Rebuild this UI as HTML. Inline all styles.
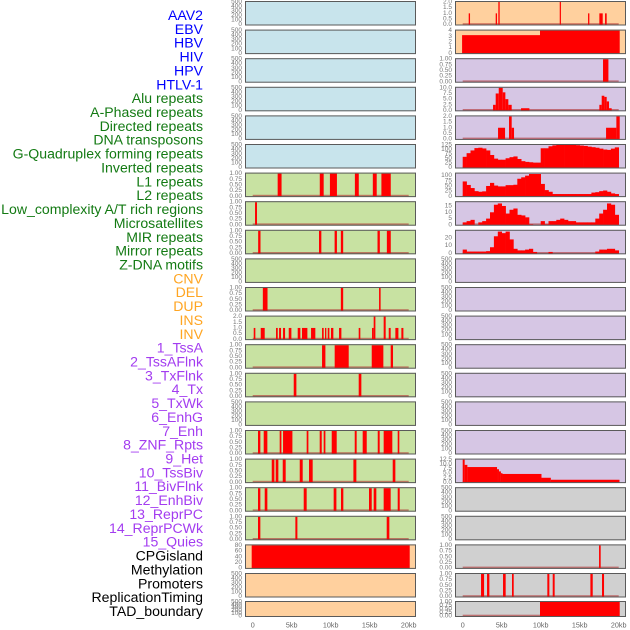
<!DOCTYPE html>
<html><head><meta charset="utf-8">
<style>
html,body{margin:0;padding:0;background:#fff;}
svg{display:block;font-family:"Liberation Sans",sans-serif;}
</style></head>
<body>
<svg id="chart" width="630" height="630" viewBox="0 0 630 630" xmlns="http://www.w3.org/2000/svg"></svg>
<script>
// ---------- data ----------
const trackLabels = ["AAV2","EBV","HBV","HIV","HPV","HTLV-1","Alu repeats","A-Phased repeats","Directed repeats","DNA transposons","G-Quadruplex forming repeats","Inverted repeats","L1 repeats","L2 repeats","Low_complexity A/T rich regions","Microsatellites","MIR repeats","Mirror repeats","Z-DNA motifs","CNV","DEL","DUP","INS","INV","1_TssA","2_TssAFlnk","3_TxFlnk","4_Tx","5_TxWk","6_EnhG","7_Enh","8_ZNF_Rpts","9_Het","10_TssBiv","11_BivFlnk","12_EnhBiv","13_ReprPC","14_ReprPCWk","15_Quies","CPGisland","Methylation","Promoters","ReplicationTiming","TAD_boundary"];
const labelGroupSizes = [6,13,5,15,5];
const labelGroupColors = ["#0000ff","#137a13","#ffa522","#a33cf0","#000000"];

const kbTicks = [0,5,10,15,20];
const kbTickLabels = ["0","5kb","10kb","15kb","20kb"];

// left column bars [startKb, endKb, value]
const lRow7Bars = [[3.2,3.7,1],[8.6,9.1,1],[9.9,10.8,1],[13.1,13.6,1],[15.4,15.9,1],[16.5,17.7,1]];
const lRow8Bars = [[0.3,0.55,1]];
const lRow9Bars = [[0.7,1.0,1],[8.5,8.8,1],[10.5,10.8,1],[11.3,11.6,1],[16.0,16.3,1],[17.2,17.7,1]];
const lRow11Bars = [[1.3,1.9,1],[11.3,11.6,1],[16.2,16.4,1]];
const lRow12Bars = [[0.13,0.34,1],[1.03,1.54,1],[2.99,3.21,1],[3.38,3.63,1],[3.89,4.15,1],[4.62,4.96,1],[5.77,6.11,1],[6.32,7.01,1],[7.48,8.03,1],[8.89,9.10,1],[9.27,9.44,1],[9.62,9.83,1],[10.04,10.34,1],[11.07,11.37,1],[13.59,13.80,1],[15.30,15.51,1],[15.51,15.73,2],[16.79,17.05,2],[17.44,17.69,1],[18.29,18.68,1],[19.06,19.32,1]];
const lRow13Bars = [[8.89,9.32,1],[10.51,12.31,1],[15.26,16.75,1],[17.69,17.99,1]];
const lRow14Bars = [[5.26,5.60,1],[13.59,13.93,1]];
const lRow16Bars = [[0.68,0.98,1],[1.41,1.88,1],[3.46,3.68,1],[3.89,5.09,1],[6.92,7.14,1],[8.59,8.85,1],[9.10,9.32,1],[10.13,10.77,1],[13.08,13.33,1],[14.10,14.62,1],[16.03,16.28,1],[16.79,17.90,1],[18.59,18.80,1]];
const lRow17Bars = [[2.44,2.78,1],[2.95,3.29,1],[3.85,4.23,1],[6.03,6.41,1],[7.22,7.69,1],[12.91,13.29,1],[17.95,18.29,1]];
const lRow18Bars = [[0.68,0.98,1],[1.54,1.88,1],[6.54,6.92,1],[10.38,10.73,1],[11.32,11.62,1],[14.91,15.26,1],[15.51,15.85,1],[16.79,17.69,1],[18.59,18.85,1]];
const lRow19Bars = [[0.68,0.98,1],[5.47,5.73,1],[17.18,17.52,1]];
const lRow20Bars = [[-0.13,20.13,80]];

// right column
const rRow1Bars = [[0.77,0.94,1],[4.23,4.40,1],[4.57,4.74,2],[12.44,12.56,2],[16.07,16.24,1],[17.52,17.95,1],[18.25,18.46,1]];
const rRow2Bars = [[-0.08,9.91,3.2],[9.91,20.13,4]];
const rRow3Bars = [[17.99,18.68,1]];
const rRow4Bars = [[3.89,4.23,2.5],[4.23,4.62,7.5],[4.62,5.13,10],[5.13,5.47,8],[5.47,5.85,5],[5.85,6.28,2.5],[7.48,8.55,1],[17.52,17.82,2.5],[17.82,18.16,6.5],[18.16,18.46,6],[18.46,18.76,4],[18.76,19.10,1]];
const rRow5Bars = [[4.53,5.43,1],[5.94,6.28,2],[6.28,6.58,1],[18.38,19.70,1],[19.70,20.13,2]];
const rRow6Bins = [60,80,95,108,110,106,95,70,50,44,44,52,58,62,48,36,32,30,28,28,107,107,118,123,125,125,125,125,125,124,122,120,116,113,110,105,100,98,105,112];
const rRow7Bins = [72,55,40,25,22,24,50,65,52,48,48,54,54,56,85,92,100,108,108,108,60,30,22,11,11,11,11,11,11,11,11,11,11,18,20,25,28,22,14,11];
const rRow8Bins = [2,3,4,0,2,3,5,10,16,17,15,9,12,13,8,7.5,6,0.5,0,0,3,0.5,3,3,4,5,4,3,3,2,2,2,2,2,5,9,12,17,16,8];
const rRow9Bins = [5,2.5,2.5,2.5,2.5,2.5,3,8,22,28,26,28,18,6,4,4,5,6,2,0,0,0,2,0,0,0,0,0,0,0,0,0,0,0,2.5,5,5,6,6,4];
const rRow17Bars = [[0,0.25,12.5],[0.25,0.6,9.6],[0.6,4.4,8.4],[4.4,4.65,7.2],[4.65,4.9,6],[4.9,5.1,5],[5.1,10.1,4.6],[10.1,11.3,2.5],[11.3,20.1,1.4]];
const rRow20Bars = [[17.48,17.69,1]];
const rRow21Bars = [[2.35,2.74,1],[3.12,3.42,1],[5.17,5.51,1],[6.32,6.54,1],[10.85,11.11,1],[11.54,11.79,1],[16.37,16.67,1],[17.86,18.12,1]];
const rRow22Bars = [[9.91,20.13,1]];

// tick sets
const ticksEmpty = [0,100,200,300,400,500];
const ticksEmptyLabels = ["0","100","200","300","400","500"];
const ticks01 = [0,0.25,0.5,0.75,1];
const ticks01Labels = ["0.00","0.25","0.50","0.75","1.00"];
const ticks02 = [0,0.5,1,1.5,2];
const ticks02Labels = ["0.0","0.5","1.0","1.5","2.0"];
const ticks04 = [0,1,2,3,4];
const ticks04Labels = ["0","1","2","3","4"];
const ticks10 = [0,2.5,5,7.5,10];
const ticks10Labels = ["0.0","2.5","5.0","7.5","10.0"];
const ticks125 = [0,25,50,75,100,125];
const ticks125Labels = ["0","25","50","75","100","125"];
const ticks100 = [0,25,50,75,100];
const ticks100Labels = ["0","25","50","75","100"];
const ticks15 = [0,5,10,15];
const ticks15Labels = ["0","5","10","15"];
const ticks20 = [0,10,20];
const ticks20Labels = ["0","10","20"];
const ticks12 = [0,2.5,5,7.5,10,12.5];
const ticks12Labels = ["0.0","2.5","5.0","7.5","10.0","12.5"];
const ticks80 = [0,20,40,60,80];
const ticks80Labels = ["0","20","40","60","80"];

const BLUE="#c8e4ec", GREEN="#c8e2a2", ORANGE="#ffd09e", PURPLE="#d6c6e4", GRAY="#d0d0d0";

function E(){return {ymax:500,ticks:ticksEmpty,tl:ticksEmptyLabels};}
const panels = [];
for(let r=0;r<22;r++){
  const bg = r<6?BLUE:(r<19?GREEN:ORANGE);
  panels.push(Object.assign({col:0,row:r,bg:bg},E()));
}
function setP(col,row,ymax,ticks,tl,bars,bins){
  const p = panels.find(q=>q.col===col&&q.row===row);
  p.ymax=ymax;p.ticks=ticks;p.tl=tl;p.bars=bars;p.bins=bins;p.data=true;
}
for(let r=0;r<22;r++){
  const bg = r<2?ORANGE:(r<17?PURPLE:GRAY);
  panels.push(Object.assign({col:1,row:r,bg:bg},E()));
}
setP(0,6,1,ticks01,ticks01Labels,lRow7Bars);
setP(0,7,1,ticks01,ticks01Labels,lRow8Bars);
setP(0,8,1,ticks01,ticks01Labels,lRow9Bars);
setP(0,10,1,ticks01,ticks01Labels,lRow11Bars);
setP(0,11,2,ticks02,ticks02Labels,lRow12Bars);
setP(0,12,1,ticks01,ticks01Labels,lRow13Bars);
setP(0,13,1,ticks01,ticks01Labels,lRow14Bars);
setP(0,15,1,ticks01,ticks01Labels,lRow16Bars);
setP(0,16,1,ticks01,ticks01Labels,lRow17Bars);
setP(0,17,1,ticks01,ticks01Labels,lRow18Bars);
setP(0,18,1,ticks01,ticks01Labels,lRow19Bars);
setP(0,19,80,ticks80,ticks80Labels,lRow20Bars);
setP(1,0,2,ticks02,ticks02Labels,rRow1Bars);
setP(1,1,4,ticks04,ticks04Labels,rRow2Bars);
setP(1,2,1,ticks01,ticks01Labels,rRow3Bars);
setP(1,3,10,ticks10,ticks10Labels,rRow4Bars);
setP(1,4,2,ticks02,ticks02Labels,rRow5Bars);
setP(1,5,125,ticks125,ticks125Labels,null,rRow6Bins);
setP(1,6,110,ticks100,ticks100Labels,null,rRow7Bins);
setP(1,7,18,ticks15,ticks15Labels,null,rRow8Bins);
setP(1,8,29,ticks20,ticks20Labels,null,rRow9Bins);
setP(1,16,12.5,ticks12,ticks12Labels,rRow17Bars);
setP(1,19,1,ticks01,ticks01Labels,rRow20Bars);
setP(1,20,1,ticks01,ticks01Labels,rRow21Bars);
setP(1,21,1,ticks01,ticks01Labels,rRow22Bars);

// ---------- layout ----------
const NS="http://www.w3.org/2000/svg";
const svg=document.getElementById('chart');
function mk(tag,attrs,parent){const e=document.createElementNS(NS,tag);for(const k in attrs)e.setAttribute(k,attrs[k]);(parent||svg).appendChild(e);return e;}
const colLeft=[245,455], colRight=[416,626], colZero=[252.7,462.7], kbPx=7.8;
function xScale(col,kb){return colZero[col]+kb*kbPx;}
function rowTop(r){return r<21?1+r*28.6:601;}
function rowH(r){return r<21?24.5:16;}

let li=0;
labelGroupSizes.forEach((n,g)=>{
  for(let k=0;k<n;k++){
    const t=mk('text',{x:203,y:15+li*13.86,'text-anchor':'end','dominant-baseline':'central','font-size':'14.1',fill:labelGroupColors[g]});
    t.textContent=trackLabels[li];
    
    
    li++;
  }
});

panels.forEach(p=>{
  const top=rowTop(p.row), h=rowH(p.row), L=colLeft[p.col], R=colRight[p.col];
  const g=mk('g',{});
  
  
  const bg=mk('rect',{x:L,y:top,width:R-L,height:h,fill:p.bg},g);
  
  
  const y0=top+h-0.8, y1=top+1;
  const yS=v=>y0-(v/p.ymax)*(y0-y1);
  p.ticks.forEach((tv,i)=>{
    const t=mk('text',{x:L-3,y:yS(tv),'text-anchor':'end','dominant-baseline':'central','font-size':'6.5',fill:'#777'},g);
    t.textContent=p.tl[i];
    
    
  });
  if(p.data){
    const base=mk('rect',{x:xScale(p.col,0),y:y0-1.5,width:20*kbPx,height:1.5,fill:'#b03030','fill-opacity':'0.6'},g);
    
    
  }
  if(p.bars){
    p.bars.forEach(b=>{
      const xa=Math.max(L,xScale(p.col,b[0])), xb=Math.min(R,xScale(p.col,b[1]));
      const r=mk('rect',{x:xa,y:yS(b[2]),width:Math.max(1.2,xb-xa),height:y0-yS(b[2]),fill:'#ff0000'},g);
      
      
    });
  }
  if(p.bins){
    p.bins.forEach((v,i)=>{
      if(v<=0)return;
      const xa=xScale(p.col,i*0.5), xb=xScale(p.col,(i+1)*0.5);
      const r=mk('rect',{x:xa,y:yS(v),width:xb-xa+0.3,height:y0-yS(v),fill:'#ff0000'},g);
      
      
    });
  }
  const fr=mk('rect',{x:L+0.5,y:top+0.5,width:R-L-1,height:h-1,fill:'none',stroke:'#5a5a5a','stroke-width':'1'},g);
  
  
});

[0,1].forEach(col=>{
  kbTicks.forEach((kb,i)=>{
    const t=mk('text',{x:xScale(col,kb),y:625,'text-anchor':'middle','dominant-baseline':'central','font-size':'7.2',fill:'#666'});
    t.textContent=kbTickLabels[i];
    
    
  });
});
</script>
</body></html>
